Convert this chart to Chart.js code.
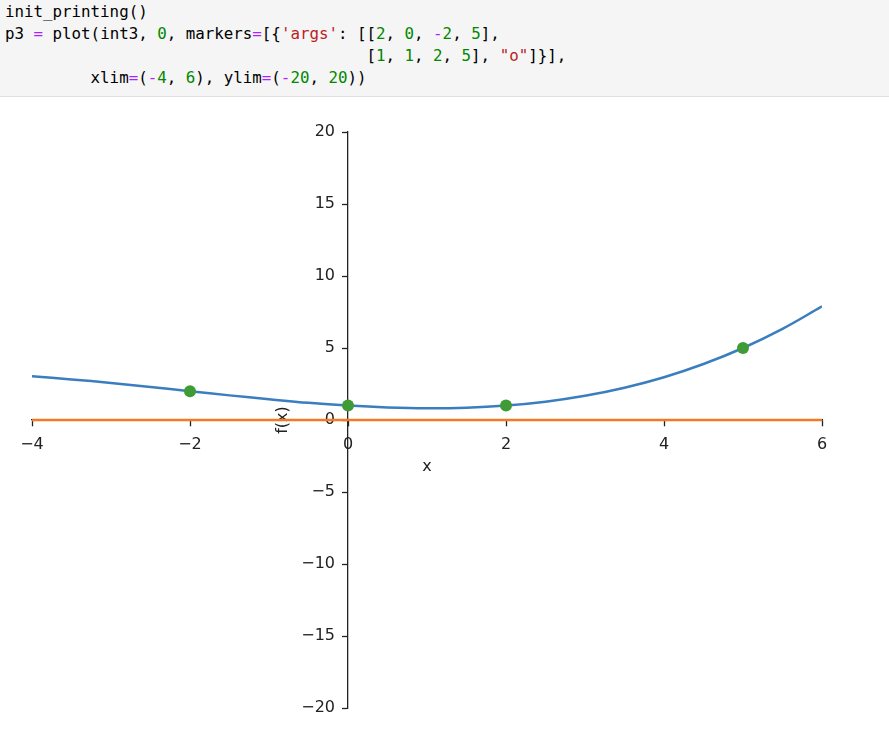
<!DOCTYPE html>
<html>
<head>
<meta charset="utf-8">
<script src="https://cdn.jsdelivr.net/npm/chart.js@4/dist/chart.umd.min.js"></script>
<style>
  html, body { margin: 0; padding: 0; background: #fff; }
  body { width: 889px; height: 739px; position: relative; overflow: hidden; }
  .cell {
    position: absolute; left: 0; top: 0; width: 889px; height: 96px;
    background: #f5f5f5; border-bottom: 1px solid #e0e0e0;
  }
  .cell pre {
    margin: 0; padding: 1px 0 0 5px;
    font-family: "DejaVu Sans Mono", monospace; font-size: 15.8px; line-height: 22px;
    color: #000;
  }
  .op { color: #aa22ff; }
  .num { color: #008800; }
  .str { color: #ba2121; }
  #wrap { position: absolute; left: 0; top: 97px; width: 889px; height: 642px; }
</style>
</head>
<body>
<div class="cell"><pre>init_printing()
p3 <span class="op">=</span> plot(int3, <span class="num">0</span>, markers<span class="op">=</span>[{<span class="str">'args'</span>: [[<span class="num">2</span>, <span class="num">0</span>, <span class="op">-</span><span class="num">2</span>, <span class="num">5</span>],
                                      [<span class="num">1</span>, <span class="num">1</span>, <span class="num">2</span>, <span class="num">5</span>], <span class="str">"o"</span>]}],
         xlim<span class="op">=</span>(<span class="op">-</span><span class="num">4</span>, <span class="num">6</span>), ylim<span class="op">=</span>(<span class="op">-</span><span class="num">20</span>, <span class="num">20</span>))</pre></div>
<div id="wrap"><canvas id="chart" width="889" height="642"></canvas></div>
<script>
// int3 curve
const curveX = [-4, -3.5, -3, -2.5, -2, -1.5, -1, -0.5, 0, 0.5, 1, 1.5, 2, 2.5, 3, 3.5, 4, 4.5, 5, 5.5, 6];
const curveY = [3.03, 2.82, 2.57, 2.29, 2.0, 1.71, 1.44, 1.19, 1.0, 0.87, 0.81, 0.85, 1.0, 1.27, 1.68, 2.24, 2.97, 3.89, 5.0, 6.33, 7.89];

// the constant 0
const zeroX = [-4, 6];
const zeroY = [0, 0];

// markers
const markX = [2, 0, -2, 5];
const markY = [1, 1, 2, 5];

const xTicks = [-4, -2, 0, 2, 4, 6];
const yTicks = [-20, -15, -10, -5, 0, 5, 10, 15, 20];

function pts(xs, ys) {
  return xs.map(function(x, i) { return {x: x, y: ys[i]}; });
}

function minus(v) {
  return String(v).replace('-', '\u2212');
}

const tickFont = {family: '"DejaVu Sans", sans-serif', size: 16};

// y axis is laid out as 'left' (so labels and title sit right), then moved onto x = 0
const centerSpines = {
  id: 'centerSpines',
  afterLayout: function(chart) {
    const y = chart.scales.y;
    const px = chart.scales.x.getPixelForValue(0);
    y.width = y._fitWidth;
    y.right = px;
    y.left = px - y._fitWidth;
  },
  afterDraw: function(chart) {
    const ctx = chart.ctx;
    const x = (chart.chartArea.left + chart.chartArea.right) / 2;
    const y = chart.scales.y.getPixelForValue(0) + 47;
    ctx.save();
    ctx.font = '16px "DejaVu Sans", sans-serif';
    ctx.fillStyle = '#222';
    ctx.textAlign = 'center';
    ctx.textBaseline = 'middle';
    ctx.fillText('x', x, y);
    ctx.restore();
  }
};

new Chart(document.getElementById('chart').getContext('2d'), {
  type: 'scatter',
  data: {
    datasets: [{
      data: pts(markX, markY),
      showLine: false,
      pointRadius: 6,
      pointHoverRadius: 6,
      pointBackgroundColor: '#3f9b35',
      pointBorderWidth: 0,
      order: 0
    }, {
      data: pts(zeroX, zeroY),
      showLine: true,
      borderColor: '#f07a26',
      borderWidth: 2.5,
      pointRadius: 0,
      order: 1
    }, {
      data: pts(curveX, curveY),
      showLine: true,
      borderColor: '#3a7ebf',
      borderWidth: 2.5,
      tension: 0.4,
      pointRadius: 0,
      order: 2
    }]
  },
  options: {
    responsive: false,
    animation: false,
    layout: {padding: {left: 32, right: 67, top: 35, bottom: 31}},
    plugins: {legend: {display: false}, tooltip: {enabled: false}},
    scales: {
      x: {
        type: 'linear',
        position: {y: 0},
        min: -4,
        max: 6,
        afterBuildTicks: function(scale) { scale.ticks = xTicks.map(function(v) { return {value: v}; }); },
        ticks: {font: tickFont, color: '#222', padding: 9, callback: minus},
        grid: {display: true, drawOnChartArea: false, drawTicks: true, tickLength: 6, tickColor: '#222', tickWidth: 1.3},
        border: {display: true, color: '#222', width: 1.3}
      },
      y: {
        type: 'linear',
        position: 'left',
        min: -20,
        max: 20,
        afterBuildTicks: function(scale) { scale.ticks = yTicks.map(function(v) { return {value: v}; }); },
        afterFit: function(scale) { scale._fitWidth = scale.width; scale.width = 0; },
        ticks: {font: tickFont, color: '#222', padding: 7, callback: minus},
        grid: {display: true, drawOnChartArea: false, drawTicks: true, tickLength: 6, tickColor: '#222', tickWidth: 1.3},
        border: {display: true, color: '#222', width: 1.3},
        title: {display: true, text: 'f(x)', font: tickFont, color: '#222', padding: {top: 4, bottom: 2}}
      }
    }
  },
  plugins: [centerSpines]
});
</script>
</body>
</html>
